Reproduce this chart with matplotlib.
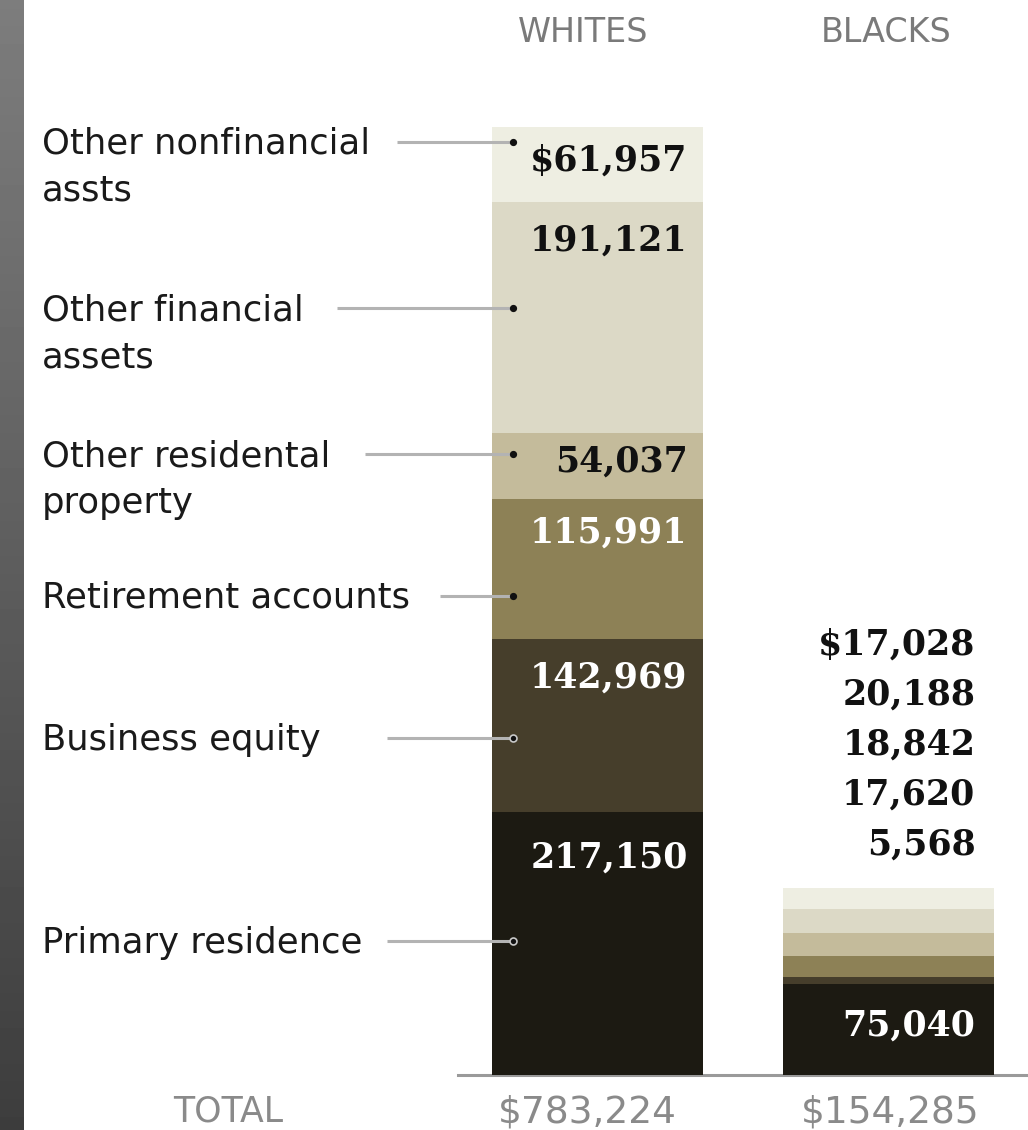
import numpy as np
import matplotlib.pyplot as plt
from matplotlib.transforms import blended_transform_factory

# data
groups = ['WHITES', 'BLACKS']
totals = ['$783,224', '$154,285']
categories = ['Primary residence', 'Business equity', 'Retirement accounts',
              'Other residental\nproperty', 'Other financial\nassets',
              'Other nonfinancial\nassts']
whites = [217150, 142969, 115991, 54037, 191121, 61957]
blacks = [75040, 5568, 17620, 18842, 20188, 17028]

# styling / layout
colors = ['#1c1a12', '#463e2b', '#8d8156', '#c4bb9b', '#dcd9c6', '#eeeee2']
text_colors = ['white', 'white', 'white', '#111111', '#111111', '#111111']
dot_frac = [0.51, 0.43, 0.31, 0.68, 0.54, 0.80]   # dot height inside white segment
line_start = [387, 387, 440, 365, 337, 397]        # leader line start, px
label_drop = [45, 38, 34, 28, 39, 34]              # value label below segment top, px
head_shift = [-14, -2]                             # header / total x shift, px

W, H = 1028, 1130
PX = 290.5            # pixels per category step
bar_w = 211 / PX

fig = plt.figure(figsize=(W / 100, H / 100), dpi=100)

# grey gradient strip on the left edge
gax = fig.add_axes([0, 0, 24 / W, 1])
gax.imshow(np.linspace(0.49, 0.24, 256)[:, None], cmap='gray', vmin=0, vmax=1,
           aspect='auto')
gax.axis('off')

ax = fig.add_axes([458 / W, 55 / H, 570 / W, 1075 / H])
ax.set_xlim(-(597.5 - 458) / PX, 1 + (1028 - 888) / PX)
ax.set_ylim(0, 1075 / 948 * sum(whites))
ax.axis('off')

ax.axhline(0, color='#9a9a9a', lw=2.2, clip_on=False, zorder=0)

# stacked bars
for xi, vals in enumerate([whites, blacks]):
    bottom = 0
    for v, c in zip(vals, colors):
        ax.bar(xi, v, bar_w, bottom=bottom, color=c, linewidth=0, zorder=2)
        bottom += v

num_font = dict(family='DejaVu Serif', weight='bold', fontsize=25)

# whites value labels, near the top of each segment
bottom = 0
for i, v in enumerate(whites):
    txt = f'{v:,}' if i < len(whites) - 1 else f'${v:,}'
    ax.annotate(txt, xy=(bar_w / 2, bottom + v), xytext=(-11, -label_drop[i] * 0.72),
                textcoords='offset points', ha='right', va='center',
                color=text_colors[i], zorder=4, **num_font)
    bottom += v

# blacks: primary residence inside the bar, the rest stacked above
ax.annotate(f'{blacks[0]:,}', xy=(1 + bar_w / 2, blacks[0] / 2), xytext=(-13, 3),
            textcoords='offset points', ha='right', va='center',
            color='white', zorder=4, **num_font)
for k, v in enumerate(blacks[1:]):
    txt = f'{v:,}' if k < len(blacks) - 2 else f'${v:,}'
    ax.annotate(txt, xy=(1 + bar_w / 2, sum(blacks)), xytext=(-13, (44 + 50 * k) * 0.72),
                textcoords='offset points', ha='right', va='center',
                color='#111111', **num_font)

# category labels with leader lines into the whites bar
tr = blended_transform_factory(fig.transFigure, ax.transData)
x0 = ax.get_xlim()[0]
dot_x = -bar_w / 2 + 21 / PX
bottom = 0
for i, (cat, v) in enumerate(zip(categories, whites)):
    y = bottom + dot_frac[i] * v
    for j, line in enumerate(cat.split('\n')):
        ax.annotate(line, xy=(42 / W, y), xycoords=tr,
                    xytext=(0, (-12 - 47 * j) * 0.72),
                    textcoords='offset points', ha='left', va='baseline',
                    fontsize=25.5, family='DejaVu Sans', color='#1a1a1a')
    lx = x0 + (line_start[i] - 458) / PX
    ax.plot([lx, dot_x], [y, y], color='#b3b3b3', lw=2.2, clip_on=False,
            solid_capstyle='butt', zorder=3)
    dark = i < 2
    ax.plot(dot_x, y, 'o', ms=5 if dark else 4, mfc='#111111',
            mec='#c8c8c8' if dark else '#111111', mew=1.2, zorder=5, clip_on=False)
    bottom += v

# column headers and totals
trh = blended_transform_factory(ax.transData, fig.transFigure)
for xi, (g, t) in enumerate(zip(groups, totals)):
    ax.text(xi + head_shift[xi] / PX, 1 - 32 / H, g, transform=trh,
            ha='center', va='center', fontsize=24, color='#7a7a7a',
            family='DejaVu Sans')
    ax.text(xi + (head_shift[xi] + 4) / PX, 1 - 1112 / H, t, transform=trh,
            ha='center', va='center', fontsize=27, color='#8a8a8a',
            family='DejaVu Sans')
fig.text(228 / W, 1 - 1112 / H, 'TOTAL', ha='center', va='center',
         fontsize=25, color='#8a8a8a', family='DejaVu Sans')

plt.savefig('out.png', dpi=100)
